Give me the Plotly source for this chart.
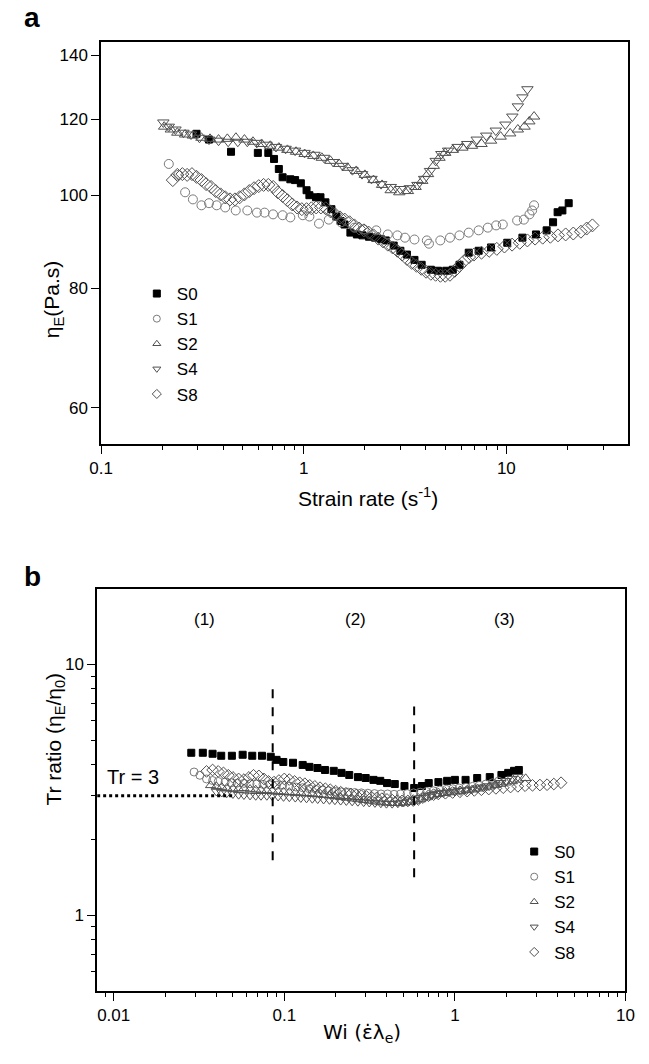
import numpy as np
import plotly.graph_objects as go

# ---------------- panel (a): extensional viscosity vs strain rate ----------------
a_s0_x = [0.296, 0.341, 0.438, 0.594, 0.669, 0.714, 0.754, 0.787, 0.859, 0.907, 0.968, 1.033,
          1.067, 1.15, 1.21, 1.28, 1.37, 1.45, 1.52, 1.59, 1.70, 1.83, 1.95, 2.10, 2.25, 2.40,
          2.54, 2.78, 3.00, 3.23, 3.52, 3.82, 4.24, 4.60, 5.05, 5.44, 5.87, 6.52, 7.30, 8.40,
          10.1, 12.0, 14.0, 15.8, 17.0, 17.9, 18.9, 20.3]
a_s0_y = [115.9, 114.3, 111.0, 110.7, 110.7, 109.1, 106.5, 104.4, 103.9, 103.7, 102.9, 101.2,
          100.0, 99.5, 99.5, 98.3, 96.7, 95.0, 94.0, 93.2, 91.4, 91.0, 90.8, 90.5, 90.3, 90.0,
          89.7, 88.6, 87.5, 86.7, 85.6, 84.6, 83.6, 83.4, 83.4, 83.6, 84.6, 87.1, 87.5, 88.2,
          89.2, 90.3, 91.0, 91.9, 93.7, 96.0, 96.4, 98.1]

a_s1_x = [0.216, 0.241, 0.260, 0.284, 0.313, 0.341, 0.372, 0.410, 0.462, 0.527, 0.588, 0.641,
          0.706, 0.787, 0.859, 0.99, 1.067, 1.19, 1.33, 1.53, 1.78, 1.98, 2.28, 2.60, 2.90,
          3.16, 3.52, 4.05, 4.15, 4.72, 5.27, 5.87, 6.52, 7.30, 8.10, 8.90, 9.60, 11.3, 12.2,
          13.0, 13.4, 13.7]
a_s1_y = [107.8, 105.0, 100.7, 99.0, 97.6, 98.1, 97.6, 97.1, 96.4, 96.4, 95.9, 95.9,
          95.5, 95.3, 94.8, 95.3, 95.0, 93.4, 94.3, 93.7, 92.5, 92.1, 91.9, 91.0, 90.8,
          90.3, 89.9, 89.7, 89.0, 89.7, 90.3, 90.8, 91.4, 91.9, 92.5, 93.0, 93.2, 94.1, 94.3,
          95.5, 96.4, 97.6]

a_s2_x = [0.205, 0.221, 0.238, 0.260, 0.284, 0.313, 0.345, 0.380, 0.420, 0.463, 0.510, 0.562,
          0.620, 0.684, 0.754, 0.831, 0.917, 1.011, 1.115, 1.229, 1.355, 1.495, 1.648, 1.817,
          2.004, 2.210, 2.437, 2.687, 2.963, 3.267, 3.564, 3.845, 4.104, 4.381, 4.676, 4.991,
          5.443, 6.067, 6.764, 7.541, 8.406, 9.370, 10.44, 11.39, 12.29, 12.98, 13.70]
a_s2_y = [117.9, 117.1, 116.2, 115.7, 115.4, 114.8, 114.5, 114.3, 114.5, 114.8, 114.3, 113.7,
          113.1, 112.6, 112.1, 111.5, 111.0, 110.4, 109.9, 109.4, 108.6, 107.8, 106.8, 106.0,
          105.0, 103.7, 102.5, 101.2, 100.7, 101.0, 102.0, 103.5, 105.2, 107.3, 109.4, 110.7,
          111.5, 112.1, 112.6, 113.1, 114.0, 115.1, 116.0, 117.1, 117.9, 119.4, 120.8]

a_s4_x = [0.203, 0.216, 0.233, 0.255, 0.278, 0.306, 0.341, 0.380, 0.424, 0.473, 0.527, 0.587,
          0.655, 0.730, 0.814, 0.907, 1.01, 1.13, 1.26, 1.40, 1.56, 1.74, 1.94, 2.16, 2.41,
          2.69, 3.00, 3.34, 3.64, 3.93, 4.20, 4.48, 4.78, 5.16, 5.75, 6.41, 7.14, 7.96, 8.87,
          9.89, 10.7, 11.4, 12.0, 12.7]
a_s4_y = [119.1, 117.9, 117.1, 116.2, 115.7, 114.8, 114.3, 114.0, 113.7, 113.7, 113.7, 113.4,
          112.9, 112.3, 111.8, 111.3, 110.7, 110.2, 109.4, 108.3, 107.3, 106.2, 105.2, 104.0,
          102.7, 102.0, 101.5, 101.7, 102.5, 104.0, 106.0, 108.6, 110.4, 111.3, 112.3, 113.1,
          114.3, 115.4, 116.8, 118.5, 120.8, 123.8, 126.5, 129.0]

a_s8_x = [0.226, 0.238, 0.252, 0.266, 0.281, 0.296, 0.313, 0.330, 0.349, 0.368, 0.389, 0.410,
          0.433, 0.458, 0.483, 0.510, 0.539, 0.569, 0.600, 0.634, 0.669, 0.707, 0.746, 0.787,
          0.831, 0.878, 0.927, 0.979, 1.033, 1.091, 1.152, 1.216, 1.284, 1.355, 1.431, 1.511,
          1.595, 1.684, 1.778, 1.877, 1.982, 2.093, 2.210, 2.333, 2.463, 2.601, 2.746, 2.899,
          3.061, 3.232, 3.412, 3.603, 3.804, 4.016, 4.240, 4.477, 4.727, 4.991, 5.269, 5.563,
          5.874, 6.202, 6.546, 6.912, 7.541, 8.224, 8.969, 9.786, 10.67, 11.64, 12.70, 13.86,
          15.11, 16.48, 17.98, 19.61, 21.39, 23.33, 24.90, 26.58]
a_s8_y = [103.7, 105.0, 105.2, 105.0, 105.2, 104.5, 103.7, 102.7, 102.0, 101.0, 100.2, 99.5,
          99.0, 99.0, 99.5, 100.2, 101.0, 101.7, 102.2, 102.5, 102.5, 102.0, 100.7, 99.8,
          98.8, 97.8, 97.1, 96.7, 96.7, 96.9, 97.1, 97.1, 96.9, 96.2, 95.5, 94.8,
          94.3, 93.7, 93.0, 92.3, 91.9, 91.4, 90.8, 90.1, 89.5, 88.8, 88.2, 87.5,
          86.7, 85.8, 85.0, 84.4, 83.8, 83.2, 82.8, 82.6, 82.4, 82.4, 82.6, 83.4,
          84.4, 85.4, 86.2, 86.7, 87.1, 87.5, 87.9, 88.4, 88.8, 89.2, 89.7, 90.1,
          90.3, 90.5, 90.8, 91.0, 91.2, 91.6, 92.3, 93.0]

# ---------------- panel (b): Trouton ratio vs Weissenberg number ----------------
b_s0_x = [0.0285, 0.0333, 0.0380, 0.0427, 0.0493, 0.0570, 0.0649, 0.0740, 0.0833, 0.0901,
          0.0987, 0.1125, 0.1282, 0.1404, 0.1564, 0.1732, 0.1949, 0.2164, 0.2403, 0.2704,
          0.3001, 0.3332, 0.3652, 0.4002, 0.4443, 0.5064, 0.5772, 0.6409, 0.7025, 0.8007,
          0.9006, 1.000, 1.155, 1.351, 1.601, 1.874, 2.054, 2.222, 2.371]
b_s0_y = [4.45, 4.45, 4.41, 4.33, 4.33, 4.37, 4.33, 4.33, 4.29, 4.17,
          4.09, 4.06, 3.98, 3.91, 3.87, 3.80, 3.77, 3.70, 3.63, 3.56,
          3.53, 3.47, 3.44, 3.37, 3.34, 3.28, 3.22, 3.28, 3.37, 3.40,
          3.44, 3.47, 3.47, 3.53, 3.56, 3.63, 3.70, 3.77, 3.80]

b_s1_x = [0.0296, 0.032, 0.035, 0.038, 0.041, 0.045, 0.049, 0.053, 0.058, 0.063, 0.069, 0.075,
          0.082, 0.090, 0.098, 0.107, 0.117, 0.128, 0.140, 0.153, 0.167, 0.182, 0.199, 0.217,
          0.237, 0.259, 0.283, 0.309, 0.338, 0.369, 0.403, 0.440, 0.480, 0.525, 0.573, 0.626,
          0.684, 0.747, 0.816, 0.891, 0.973, 1.06, 1.16, 1.27, 1.39, 1.52, 1.66, 1.80]
b_s1_y = [3.73, 3.62, 3.50, 3.45, 3.42, 3.40, 3.38, 3.37, 3.36, 3.35, 3.34, 3.33,
          3.32, 3.30, 3.31, 3.28, 3.25, 3.23, 3.20, 3.18, 3.16, 3.14, 3.12, 3.11,
          3.10, 3.09, 3.08, 3.07, 3.06, 3.05, 3.05, 3.04, 3.05, 3.06, 3.08, 3.10,
          3.12, 3.14, 3.16, 3.18, 3.20, 3.22, 3.24, 3.27, 3.30, 3.34, 3.38, 3.43]

b_s2_x = [0.037, 0.040, 0.043, 0.046, 0.050, 0.054, 0.058, 0.063, 0.068, 0.073, 0.079, 0.085,
          0.092, 0.099, 0.107, 0.116, 0.125, 0.135, 0.146, 0.157, 0.170, 0.184, 0.198, 0.214,
          0.231, 0.250, 0.270, 0.292, 0.315, 0.340, 0.368, 0.397, 0.429, 0.463, 0.500, 0.540,
          0.583, 0.630, 0.680, 0.735, 0.794, 0.857, 0.926, 1.00, 1.08, 1.17, 1.26, 1.36,
          1.47, 1.59, 1.72, 1.86, 2.00, 2.17, 2.34, 2.60]
b_s2_y = [3.30, 3.27, 3.25, 3.22, 3.20, 3.20, 3.21, 3.19, 3.17, 3.16, 3.15, 3.14,
          3.12, 3.11, 3.10, 3.09, 3.08, 3.07, 3.06, 3.04, 3.02, 3.00, 2.98, 2.96,
          2.94, 2.92, 2.90, 2.88, 2.86, 2.84, 2.82, 2.81, 2.80, 2.80, 2.81, 2.83,
          2.86, 2.90, 2.95, 3.00, 3.04, 3.07, 3.09, 3.11, 3.13, 3.15, 3.17, 3.20,
          3.23, 3.26, 3.30, 3.34, 3.38, 3.42, 3.47, 3.52]

b_s4_x = [0.040, 0.043, 0.046, 0.050, 0.054, 0.058, 0.063, 0.068, 0.073, 0.079, 0.085, 0.092,
          0.099, 0.107, 0.116, 0.125, 0.135, 0.146, 0.157, 0.170, 0.184, 0.198, 0.214, 0.231,
          0.250, 0.270, 0.292, 0.315, 0.340, 0.368, 0.397, 0.429, 0.463, 0.500, 0.540, 0.583,
          0.630, 0.680, 0.735, 0.794, 0.857, 0.926, 1.00, 1.08, 1.17, 1.26, 1.36, 1.47,
          1.59, 1.72, 1.86, 2.00, 2.17, 2.34]
b_s4_y = [3.12, 3.09, 3.07, 3.05, 3.03, 3.02, 3.01, 3.00, 3.00, 3.00, 2.99, 2.98,
          2.97, 2.96, 2.95, 2.94, 2.93, 2.92, 2.91, 2.90, 2.89, 2.88, 2.87, 2.86,
          2.85, 2.84, 2.83, 2.82, 2.81, 2.80, 2.79, 2.79, 2.80, 2.82, 2.85, 2.89,
          2.94, 2.99, 3.03, 3.06, 3.08, 3.10, 3.12, 3.14, 3.16, 3.18, 3.21, 3.24,
          3.28, 3.33, 3.38, 3.44, 3.51, 3.57]

b_s8_x = [0.035, 0.038, 0.041, 0.044, 0.047, 0.050, 0.054, 0.058, 0.062, 0.066, 0.071, 0.076,
          0.081, 0.087, 0.093, 0.100, 0.107, 0.115, 0.123, 0.132, 0.141, 0.151, 0.162, 0.174,
          0.186, 0.200, 0.214, 0.230, 0.246, 0.264, 0.283, 0.303, 0.325, 0.348, 0.373, 0.400,
          0.430, 0.460, 0.490, 0.530, 0.570, 0.610, 0.650, 0.700, 0.750, 0.800, 0.880, 0.970,
          1.07, 1.18, 1.30, 1.43, 1.58, 1.74, 1.92, 2.12, 2.34, 2.58, 2.85, 3.15, 3.47, 3.80, 4.19]
b_s8_y = [3.75, 3.80, 3.75, 3.70, 3.62, 3.55, 3.50, 3.48, 3.55, 3.62, 3.60, 3.50,
          3.42, 3.40, 3.45, 3.50, 3.48, 3.42, 3.38, 3.35, 3.30, 3.27, 3.23, 3.20,
          3.17, 3.13, 3.10, 3.07, 3.05, 3.02, 3.00, 2.98, 2.96, 2.94, 2.92, 2.90,
          2.88, 2.87, 2.86, 2.86, 2.87, 2.90, 2.95, 3.00, 3.03, 3.05, 3.07, 3.09,
          3.11, 3.13, 3.15, 3.17, 3.19, 3.21, 3.23, 3.25, 3.27, 3.29, 3.30, 3.31, 3.32, 3.34, 3.38]

series_names = ["S0", "S1", "S2", "S4", "S8"]
a_x = [a_s0_x, a_s1_x, a_s2_x, a_s4_x, a_s8_x]
a_y = [a_s0_y, a_s1_y, a_s2_y, a_s4_y, a_s8_y]
b_x = [b_s0_x, b_s1_x, b_s2_x, b_s4_x, b_s8_x]
b_y = [b_s0_y, b_s1_y, b_s2_y, b_s4_y, b_s8_y]

# regime boundaries and the Tr = 3 reference
wi_boundaries = [0.0855, 0.577]
boundary_spans = [(1.66, 8.0), (1.42, 6.8)]
tr_ref = 3.0
tr_ref_end = 0.051
regime_labels = ["(1)", "(2)", "(3)"]
regime_wi = [0.0342, 0.26, 1.95]
regime_tr = 15.1

a_xticks = [0.1, 1, 10]
a_yticks = [60, 80, 100, 120, 140]
b_xticks = [0.01, 0.1, 1, 10]
b_yticks = [1, 10]

# ---------------- styles ----------------
W, H = 649, 1064
FONT = "Liberation Sans, Arial, sans-serif"
symbols = ["square", "circle-open", "triangle-up-open", "triangle-down-open", "diamond-open"]
colors = ["#000000", "#7a7a7a", "#505050", "#505050", "#505050"]
a_sizes = [7, 9, 10, 10, 10]
b_sizes = [7, 8, 9, 9, 9]


def px_x(p):
    return p / W


def px_y(p):
    return 1 - p / H


fig = go.Figure()

for i, name in enumerate(series_names):
    fig.add_trace(go.Scatter(
        x=a_x[i], y=a_y[i], mode="markers", showlegend=False,
        marker=dict(symbol=symbols[i], size=a_sizes[i], color=colors[i],
                    line=dict(color=colors[i], width=1)),
        xaxis="x", yaxis="y"))
    fig.add_trace(go.Scatter(
        x=b_x[i], y=b_y[i], mode="markers", showlegend=False,
        marker=dict(symbol=symbols[i], size=b_sizes[i], color=colors[i],
                    line=dict(color=colors[i], width=1)),
        xaxis="x2", yaxis="y2"))

# legend entries (small symbols, as in the keys)
for leg, ax, ay in (("legend", "x", "y"), ("legend2", "x2", "y2")):
    for i, name in enumerate(series_names):
        fig.add_trace(go.Scatter(
            x=[None], y=[None], mode="markers", name=name, legend=leg,
            marker=dict(symbol=symbols[i], size=7, color=colors[i],
                        line=dict(color=colors[i], width=1)),
            xaxis=ax, yaxis=ay))

# Tr = 3 dotted reference
fig.add_trace(go.Scatter(
    x=[0.008, tr_ref_end], y=[tr_ref, tr_ref], mode="lines", showlegend=False,
    line=dict(color="black", width=3, dash="dot"), xaxis="x2", yaxis="y2"))

# regime boundaries
for wb, (lo, hi) in zip(wi_boundaries, boundary_spans):
    fig.add_trace(go.Scatter(
        x=[wb, wb], y=[lo, hi], mode="lines", showlegend=False,
        line=dict(color="black", width=2, dash="dash"), xaxis="x2", yaxis="y2"))

axis_common = dict(
    type="log", showline=True, mirror=True, linecolor="black", linewidth=1.5,
    showgrid=False, zeroline=False, ticks="outside", ticklen=8, tickwidth=1.3,
    tickcolor="black", tickfont=dict(family=FONT, size=17, color="black"),
)

fig.update_layout(
    width=W, height=H, margin=dict(l=0, r=0, t=0, b=0),
    paper_bgcolor="white", plot_bgcolor="white",
    font=dict(family=FONT, color="black"),
    xaxis=dict(axis_common, domain=[px_x(92), px_x(637)], anchor="y",
               range=[-1, np.log10(40)], tickvals=a_xticks, ticktext=["0.1", "1", "10"],
               minor=dict(ticks="outside", ticklen=4, tickcolor="black",
                          tickvals=[0.2, 0.3, 0.4, 0.5, 0.6, 0.7, 0.8, 0.9,
                                    2, 3, 4, 5, 6, 7, 8, 9, 20, 30])),
    yaxis=dict(axis_common, domain=[px_y(444), px_y(42)], anchor="x",
               range=[np.log10(55), np.log10(144.5)], tickvals=a_yticks,
               ticktext=[str(v) for v in a_yticks]),
    xaxis2=dict(axis_common, domain=[px_x(88), px_x(634)], anchor="y2",
                range=[np.log10(0.008), 1], tickvals=b_xticks,
                ticktext=["0.01", "0.1", "1", "10"],
                minor=dict(ticks="outside", ticklen=4, tickcolor="black",
                           tickvals=[0.009, 0.02, 0.03, 0.04, 0.05, 0.06, 0.07, 0.08, 0.09,
                                     0.2, 0.3, 0.4, 0.5, 0.6, 0.7, 0.8, 0.9,
                                     2, 3, 4, 5, 6, 7, 8, 9])),
    yaxis2=dict(axis_common, domain=[px_y(991), px_y(589)], anchor="x2",
                range=[np.log10(0.5), np.log10(20)], tickvals=b_yticks,
                ticktext=["1", "10"],
                minor=dict(ticks="outside", ticklen=4, tickcolor="black",
                           tickvals=[0.6, 0.7, 0.8, 0.9, 2, 3, 4, 5, 6, 7, 8, 9])),
    legend=dict(x=px_x(129), y=px_y(276), xanchor="left", yanchor="top",
                bgcolor="rgba(0,0,0,0)", font=dict(family=FONT, size=17),
                tracegroupgap=0, itemsizing="trace"),
    legend2=dict(x=px_x(519), y=px_y(834), xanchor="left", yanchor="top",
                 bgcolor="rgba(0,0,0,0)", font=dict(family=FONT, size=17),
                 tracegroupgap=0, itemsizing="trace"),
)

ann = []
ann.append(dict(text="<b>a</b>", x=px_x(10), y=px_y(18), xref="paper", yref="paper",
                xanchor="left", yanchor="middle", showarrow=False,
                font=dict(family=FONT, size=28)))
ann.append(dict(text="<b>b</b>", x=px_x(10), y=px_y(576), xref="paper", yref="paper",
                xanchor="left", yanchor="middle", showarrow=False,
                font=dict(family=FONT, size=28)))
ann.append(dict(text="\u03b7<sub>E</sub>(Pa.s)", x=px_x(27), y=px_y(258), xref="paper",
                yref="paper", textangle=-90, showarrow=False,
                font=dict(family=FONT, size=21)))
ann.append(dict(text="Tr ratio (\u03b7<sub>E</sub>/\u03b7<sub>0</sub>)", x=px_x(28),
                y=px_y(808), xref="paper", yref="paper", textangle=-90, showarrow=False,
                font=dict(family=FONT, size=21)))
ann.append(dict(text="Strain rate (s<sup>-1</sup>)", x=px_x(368), y=px_y(497),
                xref="paper", yref="paper", showarrow=False,
                font=dict(family=FONT, size=21)))
ann.append(dict(text="Wi (\u03b5\u0307\u03bb<sub>e</sub>)", x=px_x(362), y=px_y(1048),
                xref="paper", yref="paper", showarrow=False,
                font=dict(family="DejaVu Sans, Liberation Sans, sans-serif", size=20)))
for lab, wx in zip(regime_labels, regime_wi):
    ann.append(dict(text=lab, x=np.log10(wx), y=np.log10(regime_tr), xref="x2", yref="y2",
                    showarrow=False, font=dict(family=FONT, size=17)))
ann.append(dict(text="Tr = 3", x=np.log10(0.013), y=np.log10(3.55), xref="x2", yref="y2",
                showarrow=False, font=dict(family=FONT, size=20)))
fig.update_layout(annotations=ann)

fig.write_html("out.html")
